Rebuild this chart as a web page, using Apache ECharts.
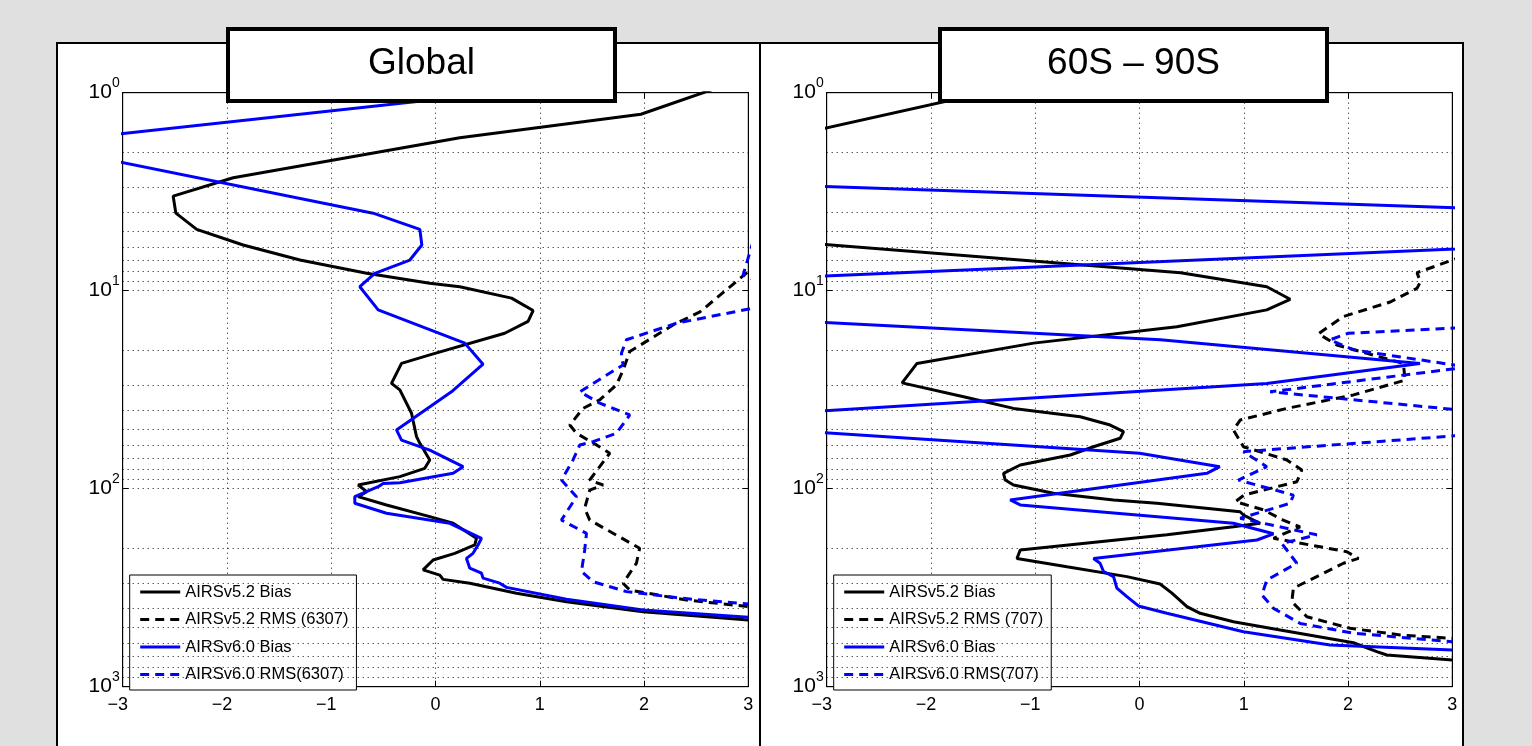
<!DOCTYPE html>
<html>
<head>
<meta charset="utf-8">
<script src="https://cdn.jsdelivr.net/npm/echarts@6.0.0/dist/echarts.min.js"></script>
<style>
html, body { margin: 0; padding: 0; background: #e0e0e0; }
#main { width: 1532px; height: 746px; }
</style>
</head>
<body>
<div id="main"></div>
<script>
// pressure levels (hPa) that get a dotted grid line
var gridLevels = [2, 3, 4, 5, 6, 7, 8, 9, 10, 20, 30, 40, 50, 60, 70, 80, 90, 100,
                  200, 300, 400, 500, 600, 700, 800, 900];

// [value, pressure] pairs, top to bottom
// Global
var globalBias52 = [[2.75,0.926],[1.97,1.285],[0.233,1.687],[-1.94,2.69],[-2.516,3.33],[-2.49,4.06],
  [-2.29,4.90],[-1.845,5.88],[-1.30,7.0],[-0.66,8.17],[-0.055,9.18],[0.233,9.55],[0.729,10.9],
  [0.936,12.6],[0.888,14.3],[0.664,16.4],[-0.055,21.1],[-0.326,23.3],[-0.422,29.4],[-0.342,31.7],
  [-0.23,41.6],[-0.182,54.6],[-0.15,59.0],[-0.055,71.6],[-0.103,78.9],[-0.342,86.9],[-0.742,95.8],
  [-0.66,103.5],[-0.742,109.7],[-0.47,120.8],[-0.055,138.4],[0.169,149.5],[0.393,178],[0.377,192.4],
  [0.185,212],[-0.023,229],[-0.119,257],[0.041,273],[0.073,287],[0.329,300],[0.777,337],[1.256,372],
  [1.99,418],[3.0,460]];
var globalRms52 = [[3.1,7.23],[2.536,12.8],[2.278,14.9],[1.863,20.3],[1.799,25.2],[1.735,29.9],
  [1.575,35.6],[1.415,39.3],[1.288,47.7],[1.352,52.5],[1.544,60.1],[1.671,66.2],[1.575,77.4],
  [1.479,90.4],[1.607,95.8],[1.479,101.6],[1.431,125.6],[1.479,144],[1.958,200],[1.927,238],
  [1.799,300],[1.863,325],[2.407,365],[3.0,394]];
var globalBias60 = [[0.9,0.961],[-3.9,1.81],[-0.598,4.06],[-0.15,4.90],[-0.131,5.88],[-0.246,7.0],
  [-0.582,8.17],[-0.726,9.55],[-0.55,12.5],[0.281,18.4],[0.456,23.5],[0.153,32.4],[-0.374,50.5],
  [-0.326,56.8],[-0.055,63.8],[0.265,77.4],[0.169,83.6],[-0.342,93.3],[-0.502,94],[-0.55,97.7],
  [-0.774,109.7],[-0.774,118.5],[-0.47,133],[0.137,149.5],[0.441,178],[0.408,192.4],[0.36,212],
  [0.297,225],[0.329,252],[0.441,267],[0.456,283],[0.616,300],[0.681,315],[1.256,362],[1.99,410],
  [3.0,446]];
var globalRms60 = [[3.05,5.55],[2.95,8.33],[3.5,11],[2.31,14.6],[1.831,17.7],[1.783,20.7],[1.799,23.7],
  [1.384,32.4],[1.575,37.0],[1.863,42.4],[1.735,52.5],[1.511,57.9],[1.384,60.1],[1.319,71.6],
  [1.208,90.4],[1.352,109.7],[1.208,144],[1.448,168],[1.431,204],[1.40,262],[1.511,295],[1.831,331],
  [2.374,358],[3.0,382]];

// 60S - 90S
var polarBias52 = [[-1.3,0.951],[-6.71,4.1],[0.394,8.11],[1.221,9.55],[1.445,11.05],[1.221,12.5],
  [0.359,15.2],[-1.016,18.4],[-2.134,23.3],[-2.277,29.2],[-1.687,34.3],[-1.208,39.3],[-0.569,43.3],
  [-0.281,47.7],[-0.153,51.5],[-0.185,55.6],[-0.441,61.4],[-0.664,67.6],[-1.144,75.9],[-1.304,83.6],
  [-1.288,90.4],[-1.208,95.8],[-0.825,105.5],[-0.249,114],[0.167,118.5],[0.965,130.7],[0.997,135.8],
  [1.093,144],[1.157,149.5],[0.901,155.6],[0.263,171],[-1.144,204],[-1.175,225],[-0.696,248],
  [-0.121,278],[0.198,303],[0.311,337],[0.455,394],[0.582,426],[0.901,470],[1.349,517],[2.052,600],
  [2.276,665],[2.372,692],[3.0,733]];
var polarRms52 = [[3.1,6.71],[2.662,8.11],[2.694,9.03],[2.662,9.72],[2.405,11.4],[1.956,13.5],
  [1.716,16.5],[1.893,18.8],[2.531,23.3],[2.547,28.3],[2.052,33.6],[1.413,39.3],[0.966,45.0],
  [0.901,50.5],[0.997,61.4],[1.413,71.6],[1.557,80.5],[1.509,92.2],[1.002,107.7],[0.92,116.3],
  [1.19,128],[1.377,144],[1.54,156],[1.285,178],[1.988,208],[2.1,225],[1.956,238],[1.476,318],
  [1.461,372],[1.605,443],[2.02,507],[2.5,548],[3.0,570]];
var polarBias60 = [[-3.5,2.92],[8.2,4.71],[-7.73,10.76],[0.2,17.7],[2.69,23.3],[1.221,29.4],
  [-4.69,45.8],[0.0,66.2],[0.77,77.4],[0.646,83.6],[-1.24,114],[-1.144,120.8],[0.901,149.5],
  [1.285,169],[1.126,181.6],[-0.441,225],[-0.378,238],[-0.345,262],[-0.249,278],[-0.217,318],
  [-0.121,351],[-0.01,391],[0.263,426],[0.997,528],[1.828,616],[3.0,653]];
var polarRms60 = [[3.5,15.0],[2.004,16.4],[1.828,17.7],[2.052,19.9],[3.15,24.3],[1.253,32.4],
  [4.5,47.3],[0.997,65.0],[1.221,77.4],[0.949,90.4],[1.476,107.7],[1.445,118.5],[0.966,141],
  [1.70,171],[1.365,189],[1.509,238],[1.221,289],[1.174,344],[1.285,402],[1.541,479],[2.052,537],
  [3.0,593]];

var titles = ['Global', '60S \u2013 90S'];
var legendNames = [
  ['AIRSv5.2 Bias', 'AIRSv5.2 RMS (6307)', 'AIRSv6.0 Bias', 'AIRSv6.0 RMS(6307)'],
  ['AIRSv5.2 Bias', 'AIRSv5.2 RMS (707)', 'AIRSv6.0 Bias', 'AIRSv6.0 RMS(707)']
];

var FONT = 'Liberation Sans, Arial, sans-serif';
var gridLeft = [122.7, 826.7];
var dotted = { color: '#111', width: 1, type: [1, 4] };

function curve(name, data, color, dashed, idx) {
    return {
        name: name, type: 'line', xAxisIndex: idx, yAxisIndex: idx,
        data: data, symbol: 'none', smooth: false, clip: true, z: 3,
        lineStyle: { color: color, width: 3, type: dashed ? [9, 6] : 'solid' },
        itemStyle: { color: color }
    };
}

// dotted horizontal grid at every 1..9 x 10^k
function gridLineSeries(idx) {
    return {
        type: 'line', xAxisIndex: idx, yAxisIndex: idx, data: [], silent: true, z: 1,
        markLine: {
            silent: true, symbol: ['none', 'none'], animation: false,
            label: { show: false },
            lineStyle: dotted,
            data: gridLevels.map(function (v) { return { yAxis: v }; })
        }
    };
}

function xAxisOpt(g, top) {
    return {
        type: 'value', gridIndex: g, min: -3, max: 3, interval: 1,
        position: top ? 'top' : 'bottom',
        axisLine: { show: true, onZero: false, lineStyle: { color: '#000', width: 1 } },
        axisTick: { show: true, inside: true, length: 6, lineStyle: { color: '#000' } },
        axisLabel: top ? { show: false } : {
            margin: 9,
            formatter: function (v) {
                return v < 0 ? '{neg|\u2212' + Math.abs(v) + '}' : '{pos|' + v + '}';
            },
            rich: {
                neg: { fontSize: 18, fontFamily: FONT, color: '#000', padding: [0, 10, 0, 0] },
                pos: { fontSize: 18, fontFamily: FONT, color: '#000' }
            }
        },
        splitLine: { show: !top, lineStyle: dotted }
    };
}

function yAxisOpt(g, right) {
    return {
        type: 'log', logBase: 10, gridIndex: g, min: 1, max: 1000, inverse: true,
        position: right ? 'right' : 'left',
        axisLine: { show: true, onZero: false, lineStyle: { color: '#000', width: 1 } },
        axisTick: { show: true, inside: true, length: 6, lineStyle: { color: '#000' } },
        axisLabel: right ? { show: false } : {
            margin: 3,
            formatter: function (v) {
                var e = Math.round(Math.log(v) / Math.LN10);
                return '{b|10}{s|' + e + '}';
            },
            rich: {
                b: { fontSize: 21, fontFamily: FONT, color: '#000', lineHeight: 34, verticalAlign: 'middle' },
                s: { fontSize: 14, fontFamily: FONT, color: '#000', lineHeight: 34, verticalAlign: 'top' }
            }
        },
        splitLine: { show: false }
    };
}

function legendOpt(g) {
    return {
        orient: 'vertical', left: gridLeft[g] + 7, top: 575,
        data: legendNames[g],
        itemWidth: 40, itemHeight: 14, itemGap: 10.5,
        padding: [8.5, 8, 7, 9],
        backgroundColor: '#fff', borderColor: '#000', borderWidth: 1,
        selectedMode: false,
        itemStyle: { opacity: 0 },
        lineStyle: { width: 3 },
        textStyle: { fontSize: 16.5, fontFamily: FONT, color: '#000', lineHeight: 14 }
    };
}

function titleBox(x, text) {
    return [
        { type: 'rect', z: 100, shape: { x: x + 2, y: 29, width: 387, height: 72 },
          style: { fill: '#fff', stroke: '#000', lineWidth: 4 } },
        { type: 'text', z: 101, x: x + 195.5, y: 64,
          style: { text: text, font: '37px ' + FONT, fill: '#000', align: 'center', verticalAlign: 'middle' } }
    ];
}

var myChart = echarts.init(document.getElementById('main'), null, { renderer: 'canvas' });
myChart.setOption({
    backgroundColor: '#e0e0e0',
    animation: false,
    textStyle: { fontFamily: FONT },
    graphic: [
        { type: 'rect', z: -10, shape: { x: 57, y: 43, width: 703, height: 740 },
          style: { fill: '#fff', stroke: '#000', lineWidth: 2 } },
        { type: 'rect', z: -10, shape: { x: 760, y: 43, width: 703, height: 740 },
          style: { fill: '#fff', stroke: '#000', lineWidth: 2 } }
    ].concat(titleBox(226, titles[0]), titleBox(938, titles[1])),
    grid: [
        { left: gridLeft[0], top: 92.7, width: 625.6, height: 594, show: true,
          borderColor: '#000', borderWidth: 1, backgroundColor: 'transparent' },
        { left: gridLeft[1], top: 92.7, width: 625.6, height: 594, show: true,
          borderColor: '#000', borderWidth: 1, backgroundColor: 'transparent' }
    ],
    xAxis: [xAxisOpt(0, false), xAxisOpt(1, false), xAxisOpt(0, true), xAxisOpt(1, true)],
    yAxis: [yAxisOpt(0, false), yAxisOpt(1, false), yAxisOpt(0, true), yAxisOpt(1, true)],
    legend: [legendOpt(0), legendOpt(1)],
    series: [
        gridLineSeries(0),
        gridLineSeries(1),
        curve(legendNames[0][0], globalBias52, '#000', false, 0),
        curve(legendNames[0][1], globalRms52, '#000', true, 0),
        curve(legendNames[0][2], globalBias60, '#0000ff', false, 0),
        curve(legendNames[0][3], globalRms60, '#0000ff', true, 0),
        curve(legendNames[1][0], polarBias52, '#000', false, 1),
        curve(legendNames[1][1], polarRms52, '#000', true, 1),
        curve(legendNames[1][2], polarBias60, '#0000ff', false, 1),
        curve(legendNames[1][3], polarRms60, '#0000ff', true, 1)
    ]
});
</script>
</body>
</html>
